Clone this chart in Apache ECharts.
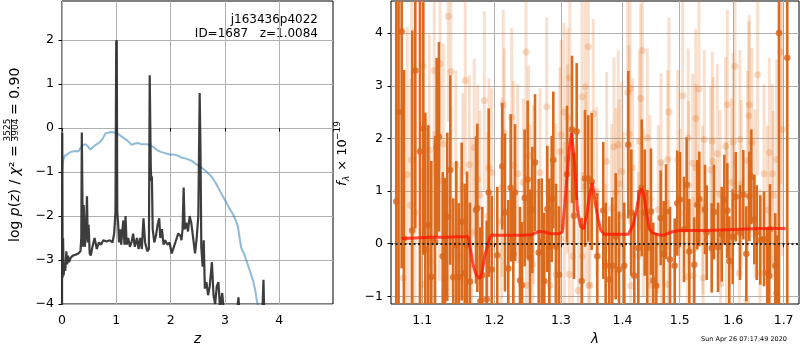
<!DOCTYPE html>
<html>
<head>
<meta charset="utf-8">
<script src="https://cdn.jsdelivr.net/npm/echarts@6/dist/echarts.min.js"></script>
<style>
  html, body { margin: 0; padding: 0; background: #fff; }
  #chart { width: 800px; height: 350px; }
</style>
</head>
<body>
<div id="chart"></div>
<script>
// ---- left panel: log p(z) and chi2 curve ----
const zPz = [0.000,0.005,0.012,0.02,0.03,0.045,0.06,0.08,0.095,0.11,0.13,0.16,0.2,0.25,0.3,0.34,0.355,0.365,0.375,0.385,0.40,0.42,0.44,0.46,0.475,0.49,0.51,0.53,0.56,0.6,0.64,0.68,0.72,0.76,0.82,0.88,0.93,0.96,0.985,0.998,1.008,1.018,1.035,1.05,1.07,1.09,1.11,1.13,1.15,1.17,1.19,1.22,1.25,1.28,1.31,1.34,1.38,1.41,1.44,1.47,1.50,1.53,1.57,1.60,1.615,1.625,1.635,1.645,1.655,1.67,1.70,1.73,1.76,1.79,1.81,1.84,1.87,1.9,1.94,1.98,2.02,2.06,2.1,2.14,2.18,2.2,2.22,2.24,2.26,2.29,2.32,2.35,2.38,2.41,2.45,2.48,2.51,2.535,2.55,2.565,2.59,2.61,2.63,2.66,2.69,2.72,2.76,2.79,2.82,2.85,2.88,2.91,2.95,2.99,3.05,3.12,3.2,3.25,3.28,3.4,3.55,3.68,3.71,3.73,3.9,4.2,4.99];
const logPz = [-4.6,-0.1,-3.4,-2.5,-3.35,-3.1,-3.25,-2.8,-3.1,-2.9,-3.05,-2.95,-2.9,-2.88,-2.85,-2.8,-2.5,-0.1,-0.1,-2.7,-1.75,-2.7,-2.4,-1.55,-2.6,-2.2,-2.85,-2.9,-2.7,-2.5,-2.75,-2.6,-2.65,-2.55,-2.58,-2.55,-2.6,-2.4,-1.9,1.95,2.0,-1.9,-2.2,-2.6,-2.3,-2.65,-2.35,-2.1,-2.65,-2.0,-2.65,-2.5,-2.7,-2.6,-2.4,-2.7,-2.5,-2.75,-2.5,-2.75,-2.05,-2.6,-2.8,-2.75,1.2,1.2,-0.9,-1.2,-1.1,-2.3,-2.6,-2.45,-2.2,-2.05,-2.5,-2.3,-2.65,-2.55,-2.65,-2.6,-2.85,-2.7,-2.55,-2.4,-2.45,-2.55,-2.3,-1.35,-2.3,-2.15,-2.35,-2.0,-2.15,-2.45,-2.85,-2.5,-2.0,0.8,-0.5,-2.7,-3.15,-2.55,-3.65,-3.5,-3.8,-3.6,-3.05,-3.8,-4.0,-3.6,-3.5,-4.1,-3.75,-4.3,-4.6,-4.5,-4.4,-3.85,-4.5,-4.8,-4.6,-4.5,-3.45,-4.6,-4.9,-5,-5];

const zChi = [0,0.02,0.05,0.1,0.15,0.2,0.26,0.3,0.34,0.39,0.44,0.48,0.52,0.56,0.6,0.65,0.7,0.75,0.8,0.83,0.9,0.97,1.0,1.05,1.12,1.2,1.28,1.34,1.4,1.47,1.55,1.62,1.68,1.75,1.82,1.9,1.98,2.05,2.12,2.2,2.3,2.38,2.47,2.55,2.63,2.7,2.76,2.83,2.9,2.96,3.02,3.08,3.15,3.2,3.24,3.27,3.3,3.36,3.42,3.47,3.52,3.56,3.59,3.62];
const chiCurve = [-1.05,-0.75,-0.63,-0.59,-0.55,-0.53,-0.52,-0.53,-0.45,-0.38,-0.37,-0.42,-0.49,-0.44,-0.40,-0.36,-0.31,-0.24,-0.12,-0.08,-0.09,-0.1,-0.13,-0.15,-0.21,-0.28,-0.38,-0.35,-0.34,-0.37,-0.37,-0.38,-0.43,-0.5,-0.54,-0.57,-0.6,-0.6,-0.62,-0.67,-0.7,-0.74,-0.82,-0.88,-0.96,-1.04,-1.11,-1.25,-1.41,-1.55,-1.68,-1.82,-1.96,-2.1,-2.24,-2.5,-2.72,-2.88,-3.1,-3.28,-3.48,-3.7,-3.94,-4.1];

const zTicks = [0, 1, 2, 3, 4];
const pzTicks = [-4, -3, -2, -1, 0, 1, 2];

// ---- right panel: spectrum ----
const lamDark = [1.066,1.069,1.073,1.076,1.0868,1.0908,1.0969,1.1013,1.104,1.108,
  1.112,1.117,1.1192,1.1223,1.1274,1.1305,1.1336,1.1377,1.1418,1.146,
  1.1493,1.1535,1.1576,1.1609,1.165,1.1735,1.1754,1.1796,1.1825,1.1887,
  1.1916,1.1959,1.204,1.2113,1.2152,1.2201,1.2236,1.2275,1.23,1.2374,
  1.2404,1.2444,1.2489,1.2524,1.2559,1.26,1.2656,1.2702,1.2742,1.2788,
  1.2819,1.2856,1.2881,1.2923,1.2969,1.3095,1.3174,1.3206,1.3249,1.3329,
  1.3382,1.3435,1.349,1.3582,1.368,1.372,1.378,1.3829,1.3886,1.3942,
  1.4031,1.4099,1.415,1.4201,1.427,1.4328,1.438,1.4425,1.4489,1.453,
  1.4583,1.466,1.4713,1.4754,1.4825,1.4909,1.4956,1.5004,1.5077,1.5126,
  1.5174,1.5265,1.5321,1.5358,1.5464,1.5495,1.5589,1.5632,1.5708,1.5778,
  1.5827,1.5885,1.5923,1.5988,1.6046,1.613,1.6194,1.6253,1.6312,1.6351,
  1.641,1.6458,1.6529,1.6603,1.6669,1.6709,1.6723,1.683,1.6859,1.6905,1.7075];
const fluxDark = [0.8,2.5,4.03,0.10,0.25,3.29,1.75,2.19,-0.11,0.35,
  -0.63,0.04,1.83,2.03,-0.24,-0.65,0.51,1.40,-0.64,-0.03,
  -0.63,0.42,-0.56,-0.03,-0.72,0.64,0.68,-1.09,-0.60,-1.06,
  0.97,-0.49,-0.22,1.47,0.59,-0.47,1.06,-0.20,0.97,-0.70,
  -0.79,0.87,1.22,-0.27,0.64,1.54,-0.17,0.04,-0.71,0.66,
  -0.06,0.85,1.59,-0.06,-0.59,1.32,2.17,0.53,2.13,-0.71,
  1.24,1.24,1.18,-0.24,0.63,-0.42,-0.68,-0.42,0.14,-0.49,
  -0.42,1.88,0.59,-0.61,-0.08,1.06,0.59,-0.08,0.61,-0.70,
  -0.80,0.49,-0.19,0.61,-0.30,-0.42,0.77,0.84,0.27,1.12,
  -0.15,-0.40,0.74,0.85,0.65,0.21,-0.08,0.60,-0.07,0.18,
  0.84,0.63,-0.33,0.13,0.89,0.21,0.93,-0.19,0.90,1.27,
  0.46,0.21,0.07,0.09,-0.55,-0.61,0.28,-0.42,-0.94,4.00,3.53];
const errDark = [5.5,4.5,4.5,3.2,3.8,3.0,3.0,2.4,2.6,1.9,
  2.2,2.0,1.7,1.8,1.6,1.9,1.6,1.8,1.5,1.6,
  1.4,1.5,1.7,1.4,1.5,1.4,1.6,1.4,1.3,1.5,
  1.6,1.4,1.3,1.2,1.5,1.3,1.4,1.2,1.3,1.4,
  1.2,1.3,1.5,1.3,1.2,1.3,1.4,1.2,1.3,1.2,
  1.3,1.2,1.3,1.2,1.3,1.3,1.4,1.2,1.3,1.2,
  1.3,1.2,1.3,1.2,1.3,1.2,1.2,1.3,1.2,1.1,
  1.2,1.4,1.2,1.2,1.1,1.3,1.2,1.1,1.2,1.1,
  1.0,0.9,1.0,0.9,1.0,0.9,1.0,0.9,1.0,0.9,
  1.0,0.9,0.85,0.9,0.85,0.9,0.85,0.9,0.85,0.9,
  0.85,0.9,0.85,0.9,0.85,0.9,0.85,0.9,0.85,0.9,
  0.85,0.9,0.85,0.9,0.85,0.9,0.85,1.0,1.1,5.5,5.0];

const lamLight = [1.0751,1.0803,1.0847,1.086,1.0904,1.0996,1.101,1.1045,1.1093,1.1102,
  1.1156,1.1159,1.1228,1.1237,1.1282,1.135,1.1383,1.1386,1.1452,1.1511,
  1.1549,1.1585,1.1641,1.1674,1.1711,1.1759,1.1792,1.1853,1.1902,1.192,
  1.1959,1.2101,1.2109,1.2127,1.2142,1.2251,1.2275,1.234,1.2423,1.2464,
  1.2471,1.2504,1.2524,1.2565,1.2574,1.2676,1.2779,1.283,1.2918,1.2924,
  1.2985,1.2992,1.3001,1.3048,1.3054,1.31,1.3106,1.3131,1.314,1.3185,
  1.3275,1.3334,1.3341,1.3387,1.3396,1.3435,1.3441,1.3463,1.3517,1.3572,
  1.372,1.3736,1.3819,1.3858,1.3891,1.393,1.3944,1.3987,1.4014,1.4089,
  1.4111,1.4128,1.4138,1.4174,1.427,1.4287,1.4311,1.4338,1.4356,1.4425,
  1.4472,1.4479,1.4618,1.4665,1.4676,1.4784,1.4793,1.4807,1.4963,1.5004,
  1.5054,1.5144,1.5153,1.516,1.5236,1.5245,1.5291,1.5296,1.5352,1.5421,
  1.543,1.5451,1.557,1.56,1.5616,1.5694,1.5746,1.5757,1.5854,1.587,
  1.5886,1.5969,1.5995,1.6032,1.6116,1.6127,1.6154,1.626,1.6276,1.6302,
  1.6313,1.6364,1.6424,1.6477,1.6521,1.6603,1.6669,1.6709,1.677,1.6787,
  1.6859,1.694,1.6974];
const fluxLight = [-0.65,1.31,0.73,1.59,0.59,-0.77,3.37,0.08,1.77,-0.33,
  0.04,3.29,1.19,3.42,1.90,4.32,0.82,3.27,1.49,-0.24,
  1.06,3.10,1.50,0.21,1.82,1.22,0.92,2.72,0.52,1.44,
  1.35,0.42,1.07,2.64,2.11,2.40,1.49,1.33,1.16,3.64,
  -0.79,1.68,0.66,-0.39,0.93,1.35,2.60,-0.79,0.59,-0.59,
  1.75,0.09,2.07,2.50,0.33,1.61,2.39,-0.58,3.15,-0.24,
  -0.89,2.79,-0.24,2.98,1.09,3.74,-0.79,-0.79,2.47,0.99,
  -0.36,1.56,0.67,1.84,0.98,1.88,1.14,1.37,0.52,2.87,
  2.08,2.95,-0.80,1.44,-0.24,1.95,2.76,3.67,0.59,2.01,
  0.84,-0.79,0.65,1.54,-0.03,1.60,-0.77,2.50,1.60,0.58,
  2.81,-0.63,2.01,1.11,1.53,-0.61,2.38,1.44,2.94,0.64,
  -0.65,1.98,1.40,1.95,1.56,1.71,0.94,-0.76,1.85,0.33,
  2.64,1.16,1.93,3.37,-0.56,1.98,1.13,-1.09,1.58,2.43,
  2.64,1.92,0.95,3.21,-0.56,1.33,0.64,1.73,1.33,0.92,
  1.60,3.64,2.17];
const errLight = [2.6,2.8,2.4,3.0,2.5,2.2,2.4,2.3,2.2,2.0,
  2.1,2.0,1.9,2.0,1.9,2.0,1.8,1.9,1.8,1.7,
  1.8,1.8,1.7,1.8,1.7,1.8,1.6,1.7,1.6,1.7,
  1.6,1.6,1.7,1.8,1.6,1.7,1.6,1.7,1.6,1.8,
  1.6,1.7,1.6,1.5,1.7,1.6,1.7,1.6,1.7,1.5,
  1.6,1.7,1.8,1.7,1.6,1.8,1.7,1.6,1.8,1.7,
  1.6,1.8,1.6,1.7,1.8,1.8,1.6,1.7,1.8,1.6,
  1.5,1.7,1.6,1.7,1.6,1.8,1.6,1.7,1.6,1.9,
  1.7,1.8,1.6,1.7,1.6,1.7,1.8,1.9,1.6,1.7,
  1.6,1.5,1.6,1.7,1.6,1.7,1.6,1.8,1.7,1.6,
  1.8,1.6,1.7,1.6,1.7,1.5,1.7,1.6,1.8,1.6,
  1.5,1.7,1.6,1.7,1.6,1.7,1.6,1.5,1.7,1.6,
  1.8,1.6,1.7,1.9,1.6,1.7,1.6,1.6,1.7,1.8,
  1.7,1.8,1.6,1.9,1.6,1.7,1.6,1.8,1.7,1.6,
  1.9,2.5,2.4];

const lamModel = [1.073,1.09,1.11,1.13,1.15,1.1627,1.1696,1.174,1.179,1.182,1.186,1.1934,1.197,1.2,1.22,1.24,1.255,1.265,1.275,1.285,1.297,1.302,1.306,1.31,1.314,1.317,1.321,1.326,1.331,1.336,1.341,1.346,1.350,1.354,1.359,1.364,1.37,1.39,1.41,1.418,1.424,1.429,1.432,1.436,1.441,1.446,1.452,1.462,1.471,1.485,1.5,1.55,1.6,1.65,1.704];
const fluxModel = [0.10,0.11,0.12,0.12,0.13,0.13,-0.42,-0.6,-0.66,-0.55,-0.23,0.13,0.17,0.16,0.16,0.16,0.17,0.23,0.22,0.19,0.19,0.22,0.75,1.35,1.9,2.1,1.6,0.65,0.33,0.28,0.55,0.96,1.16,0.84,0.5,0.25,0.18,0.18,0.18,0.35,0.65,0.95,1.05,0.95,0.6,0.28,0.2,0.17,0.16,0.22,0.25,0.25,0.27,0.29,0.29];

const lamTicks = [1.1, 1.2, 1.3, 1.4, 1.5, 1.6, 1.7];
const fluxTicks = [-1, 0, 1, 2, 3, 4];
const lamRange = [1.0593, 1.7318];
const fluxRange = [-1.146, 4.61];

// wavelength axis is logarithmic: plot ln(lambda) on a value axis
const L = Math.log;
const FONT = 'DejaVu Sans';
const minus = v => (v < 0 ? '\u2212' + Math.abs(v) : String(v));

const zip3 = (a, b, c) => a.map((v, i) => [L(v), b[i], c[i]]);
const darkData = zip3(lamDark, fluxDark, errDark);
const lightData = zip3(lamLight, fluxLight, errLight);

function errorBars(color, width) {
  return function (params, api) {
    const x = api.value(0), y = api.value(1), e = api.value(2);
    const p1 = api.coord([x, y + e]);
    const p2 = api.coord([x, y - e]);
    const cs = params.coordSys;
    const shape = echarts.graphic.clipRectByRect(
      { x: p1[0] - width / 2, y: p1[1], width: width, height: p2[1] - p1[1] },
      { x: cs.x, y: cs.y, width: cs.width, height: cs.height }
    );
    return shape && { type: 'rect', shape: shape, style: { fill: color } };
  };
}

const tickStyle = { show: true, inside: false, length: 3.5, lineStyle: { color: '#000', width: 1 } };
const labelStyle = { color: '#000', fontFamily: FONT, fontSize: 12.5 };
const gridLine = { show: true, lineStyle: { color: '#b0b0b0', width: 1 } };
const nameStyle = { fontFamily: FONT, fontSize: 13.5, fontStyle: 'italic', color: '#000' };

const chart = echarts.init(document.getElementById('chart'));

const option = {
  animation: false,
  backgroundColor: '#fff',
  grid: [
    { left: 62, top: 1, width: 271, height: 303, outerBoundsMode: 'none', show: true, borderColor: '#000', borderWidth: 1, backgroundColor: 'transparent' },
    { left: 391, top: 1, width: 408, height: 303, outerBoundsMode: 'none', show: true, borderColor: '#000', borderWidth: 1, backgroundColor: 'transparent' }
  ],
  xAxis: [
    {
      gridIndex: 0, type: 'value', min: 0, max: 4.99,
      axisLine: { show: false },
      axisTick: Object.assign({ customValues: zTicks }, tickStyle),
      axisLabel: Object.assign({ customValues: zTicks, margin: 10, formatter: minus }, labelStyle),
      splitLine: gridLine,
      name: 'z', nameLocation: 'middle', nameGap: 28, nameTextStyle: nameStyle
    },
    {
      gridIndex: 1, type: 'value', min: L(lamRange[0]), max: L(lamRange[1]),
      axisLine: { show: false },
      axisTick: Object.assign({ customValues: lamTicks.map(L) }, tickStyle),
      axisLabel: Object.assign({ customValues: lamTicks.map(L), margin: 10, formatter: v => Math.exp(v).toFixed(1) }, labelStyle),
      splitLine: gridLine,
      name: '\u03bb', nameLocation: 'middle', nameGap: 28, nameTextStyle: nameStyle
    }
  ],
  yAxis: [
    {
      gridIndex: 0, type: 'value', min: -4, max: 2.89,
      axisLine: { show: false },
      axisTick: Object.assign({ customValues: pzTicks }, tickStyle),
      axisLabel: Object.assign({ customValues: pzTicks, margin: 8, formatter: minus }, labelStyle),
      splitLine: gridLine
    },
    {
      gridIndex: 1, type: 'value', min: fluxRange[0], max: fluxRange[1],
      axisLine: { show: false },
      axisTick: Object.assign({ customValues: fluxTicks }, tickStyle),
      axisLabel: Object.assign({ customValues: fluxTicks, margin: 8, formatter: minus }, labelStyle),
      splitLine: gridLine
    }
  ],
  series: [
    {
      name: 'chi2', type: 'line', xAxisIndex: 0, yAxisIndex: 0,
      data: zChi.map((z, i) => [z, chiCurve[i]]),
      showSymbol: false, clip: true, z: 2,
      lineStyle: { color: 'rgba(31,119,180,0.5)', width: 2 }
    },
    {
      name: 'pz', type: 'line', xAxisIndex: 0, yAxisIndex: 0,
      data: zPz.map((z, i) => [z, logPz[i]]),
      showSymbol: false, clip: true, z: 3,
      lineStyle: { color: 'rgba(40,40,40,0.9)', width: 2.2 }
    },
    {
      name: 'light err', type: 'custom', xAxisIndex: 1, yAxisIndex: 1,
      data: lightData, encode: { x: 0, y: 1 }, z: 2,
      renderItem: errorBars('rgba(226,112,30,0.22)', 3)
    },
    {
      name: 'light pts', type: 'scatter', xAxisIndex: 1, yAxisIndex: 1,
      data: lightData.map(d => [d[0], d[1]]), symbolSize: 7, z: 3,
      itemStyle: { color: 'rgba(226,112,30,0.3)' }
    },
    {
      name: 'dark err', type: 'custom', xAxisIndex: 1, yAxisIndex: 1,
      data: darkData, encode: { x: 0, y: 1 }, z: 4,
      renderItem: errorBars('#dc6a1c', 2.6)
    },
    {
      name: 'dark pts', type: 'scatter', xAxisIndex: 1, yAxisIndex: 1,
      data: darkData.map(d => [d[0], d[1]]), symbolSize: 6.5, z: 5,
      itemStyle: { color: '#d9651a' }
    },
    {
      name: 'model', type: 'line', xAxisIndex: 1, yAxisIndex: 1,
      data: lamModel.map((l, i) => [L(l), fluxModel[i]]),
      showSymbol: false, z: 6,
      lineStyle: { color: 'rgba(255,20,0,0.75)', width: 3 },
      markLine: {
        silent: true, symbol: 'none', label: { show: false }, z: 7,
        lineStyle: { color: '#222', type: [2, 2.5], width: 2 },
        data: [{ yAxis: 0 }]
      }
    }
  ],
  graphic: [
    { type: 'text', x: 318, y: 20, style: { text: 'j163436p4022', font: '12px "DejaVu Sans"', fill: '#000', textAlign: 'right', textVerticalAlign: 'middle' } },
    { type: 'text', x: 318, y: 34, style: { text: 'ID=1687   z=1.0084', font: '12px "DejaVu Sans"', fill: '#000', textAlign: 'right', textVerticalAlign: 'middle' } },
    { type: 'text', x: 787, y: 339, style: { text: 'Sun Apr 26 07:17:49 2020', font: '6.5px "DejaVu Sans"', fill: '#000', textAlign: 'right', textVerticalAlign: 'middle' } },
    {
      type: 'group', x: 15, y: 242, rotation: Math.PI / 2,
      children: [
        { type: 'text', x: 0, y: 0, style: {
          text: '{r|log }{i|p}{r|(}{i|z}{r|) / }{i|\u03c7}{r|\u00b2 =}',
          textAlign: 'left', textVerticalAlign: 'middle', fill: '#000',
          rich: { r: { fontFamily: FONT, fontSize: 14 }, i: { fontFamily: FONT, fontSize: 14, fontStyle: 'italic' } }
        } },
        { type: 'text', x: 112, y: -7.5, style: { text: '3525', font: '9px "DejaVu Sans"', fill: '#000', textAlign: 'center', textVerticalAlign: 'middle' } },
        { type: 'line', shape: { x1: 101, y1: -3.5, x2: 123, y2: -3.5 }, style: { stroke: '#000', lineWidth: 0.8 } },
        { type: 'text', x: 112, y: 0.8, style: { text: '3904', font: '9px "DejaVu Sans"', fill: '#000', textAlign: 'center', textVerticalAlign: 'middle' } },
        { type: 'text', x: 127, y: 0, style: { text: '= 0.90', font: '14px "DejaVu Sans"', fill: '#000', textAlign: 'left', textVerticalAlign: 'middle' } }
      ]
    },
    {
      type: 'group', x: 343, y: 186, rotation: Math.PI / 2,
      children: [
        { type: 'text', x: 0, y: 0, style: { text: 'f', font: 'italic 13px "DejaVu Sans"', fill: '#000', textAlign: 'left', textVerticalAlign: 'middle' } },
        { type: 'text', x: 5, y: 4, style: { text: '\u03bb', font: 'italic 9px "DejaVu Sans"', fill: '#000', textAlign: 'left', textVerticalAlign: 'middle' } },
        { type: 'text', x: 11, y: 0, style: { text: ' \u00d7 10', font: '13px "DejaVu Sans"', fill: '#000', textAlign: 'left', textVerticalAlign: 'middle' } },
        { type: 'text', x: 46, y: -5, style: { text: '\u221219', font: '9px "DejaVu Sans"', fill: '#000', textAlign: 'left', textVerticalAlign: 'middle' } }
      ]
    }
  ]
};

chart.setOption(option);
</script>
</body>
</html>
